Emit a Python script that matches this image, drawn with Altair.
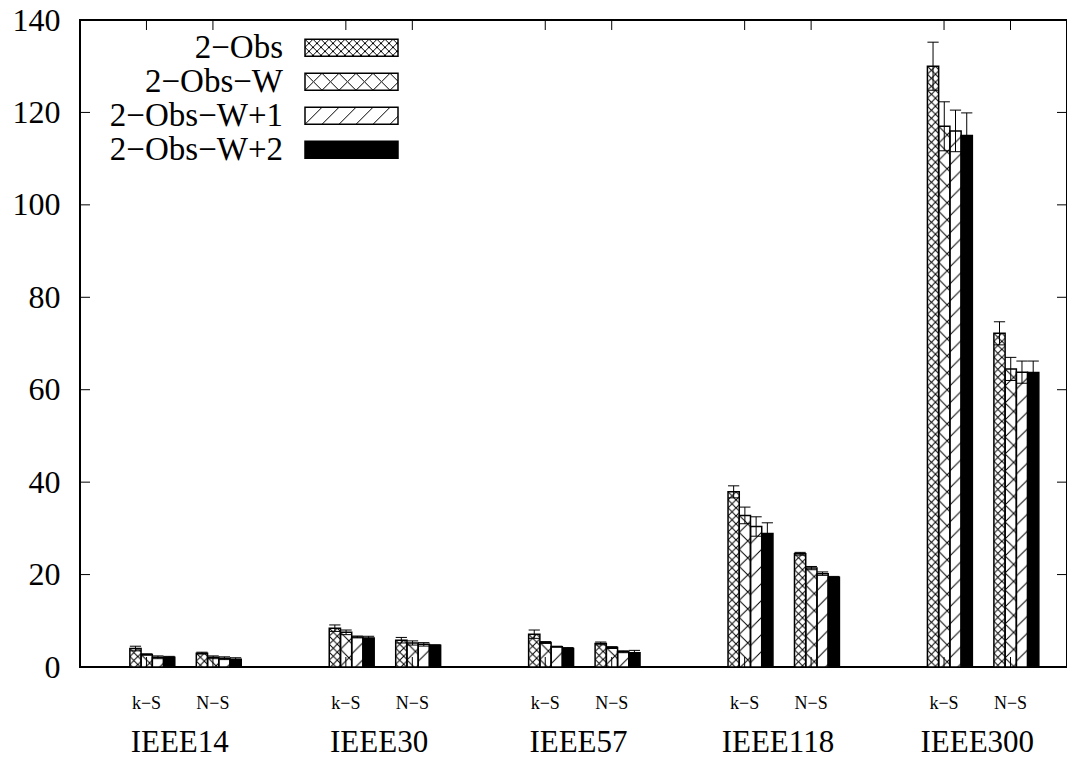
import base64
import altair as alt
import pandas as pd

# ---------------- data ----------------
GROUPS = ["IEEE14", "IEEE30", "IEEE57", "IEEE118", "IEEE300"]
SUBS = ["k−S", "N−S"]
SERIES = ["2−Obs", "2−Obs−W", "2−Obs−W+1", "2−Obs−W+2"]

# mean values: per group -> [k-S series values, N-S series values]
VAL_IEEE14 = [[4.0, 2.7, 2.1, 2.1], [3.0, 2.1, 1.9, 1.7]]
VAL_IEEE30 = [[8.4, 7.5, 6.5, 6.3], [5.8, 5.2, 4.9, 4.7]]
VAL_IEEE57 = [[7.1, 5.3, 4.4, 4.0], [5.1, 4.2, 3.3, 3.1]]
VAL_IEEE118 = [[37.9, 32.8, 30.4, 28.9], [24.5, 21.4, 20.2, 19.4]]
VAL_IEEE300 = [[130.0, 117.0, 116.0, 115.0], [72.2, 64.5, 63.8, 63.7]]

# error-bar half widths
ERR_IEEE14 = [[0.5, 0.15, 0.3, 0.2], [0.2, 0.3, 0.3, 0.3]]
ERR_IEEE30 = [[0.7, 0.5, 0.2, 0.35], [0.6, 0.45, 0.37, 0.1]]
ERR_IEEE57 = [[0.9, 0.2, 0.1, 0.2], [0.3, 0.2, 0.2, 0.5]]
ERR_IEEE118 = [[1.3, 1.8, 2.1, 2.3], [0.3, 0.35, 0.37, 0.2]]
ERR_IEEE300 = [[5.2, 5.3, 4.5, 4.9], [2.5, 2.5, 2.4, 2.5]]

VALUES = [VAL_IEEE14, VAL_IEEE30, VAL_IEEE57, VAL_IEEE118, VAL_IEEE300]
ERRORS = [ERR_IEEE14, ERR_IEEE30, ERR_IEEE57, ERR_IEEE118, ERR_IEEE300]

Y_TICKS = [0, 20, 40, 60, 80, 100, 120, 140]

# ---------------- tables ----------------
rows = []
for gi, g in enumerate(GROUPS):
    for si, s in enumerate(SUBS):
        for ki, k in enumerate(SERIES):
            rows.append(dict(group=g, sub=s, series=k, gi=gi, si=si, ki=ki,
                             value=VALUES[gi][si][ki], err=ERRORS[gi][si][ki]))
df = pd.DataFrame(rows)

SLOTS = [3 * gi + si for gi in range(len(GROUPS)) for si in range(len(SUBS))]
SLOT_LABELS = [SUBS[si] for gi in range(len(GROUPS)) for si in range(len(SUBS))]
gdf = pd.DataFrame({"g": GROUPS, "gi": list(range(len(GROUPS)))})
ytdf = pd.DataFrame({"v": Y_TICKS})
xtdf = pd.DataFrame({"s": SLOTS, "lab": SLOT_LABELS})


# ---------------- pattern fills (styles) ----------------
def svg_uri(body):
    svg = ("<svg xmlns='http://www.w3.org/2000/svg' width='100%' height='100%'>"
           + body + "</svg>")
    return "data:image/svg+xml;base64," + base64.b64encode(svg.encode()).decode()


def cross(t):
    return (f"<defs><pattern id='p' width='{t}' height='{t}' patternUnits='userSpaceOnUse'>"
            f"<path d='M0,0L{t},{t}M{t},0L0,{t}' stroke='black' stroke-width='1' fill='none'/>"
            f"</pattern></defs><rect width='100%' height='100%' fill='white'/>"
            f"<rect width='100%' height='100%' fill='url(#p)'/>")


def diag(t):
    return (f"<defs><pattern id='p' width='{t}' height='{t}' patternUnits='userSpaceOnUse'>"
            f"<path d='M0,{t}L{t},0M-2,2L2,-2M{t-2},{t+2}L{t+2},{t-2}' stroke='black' "
            f"stroke-width='1' fill='none'/></pattern></defs>"
            f"<rect width='100%' height='100%' fill='white'/>"
            f"<rect width='100%' height='100%' fill='url(#p)'/>")


pat_df = pd.DataFrame({
    "series": SERIES[:3],
    "url": [svg_uri(cross(8)), svg_uri(cross(17)), svg_uri(diag(17))],
})

FONT = "Liberation Serif"
W, H = 987, 647
xs = alt.Scale(domain=[-1, 13.85], nice=False, zero=False)
ys = alt.Scale(domain=[0, 140], nice=False, zero=True)
fill_scale = alt.Scale(domain=SERIES, range=["white", "white", "white", "black"])

y_axis = alt.Axis(values=Y_TICKS, ticks=False, domain=False, grid=False, title=None,
                  labelFontSize=32, labelPadding=20, labelFont=FONT,
                  labelColor="black", labelFlush=False, labelOverlap=False)

BW = 0.169
OFF = -0.25
base = alt.Chart(df).transform_calculate(
    x0=f"3*datum.gi + datum.si + {OFF} + {BW}*datum.ki",
    x1=f"3*datum.gi + datum.si + {OFF} + {BW}*(datum.ki + 1)",
    xc=f"3*datum.gi + datum.si + {OFF} + {BW}*(datum.ki + 0.5)",
    lo="datum.value - datum.err",
    hi="datum.value + datum.err",
    zero="0",
)

bars_fill = base.mark_bar().encode(
    x=alt.X("x0:Q", scale=xs, axis=None),
    x2="x1:Q",
    y=alt.Y("value:Q", scale=ys, axis=y_axis),
    y2="zero:Q",
    color=alt.Color("series:N", scale=fill_scale, legend=None),
)

bars_img = base.transform_filter("datum.ki < 3").transform_lookup(
    lookup="series", from_=alt.LookupData(pat_df, key="series", fields=["url"])
).mark_image(aspect=False).encode(
    x=alt.X("x0:Q", scale=xs, axis=None),
    x2="x1:Q",
    y=alt.Y("value:Q", scale=ys, axis=None),
    y2="zero:Q",
    url=alt.Url("url:N"),
)

bars_outline = base.mark_bar(fillOpacity=0, stroke="black", strokeWidth=1.5).encode(
    x=alt.X("x0:Q", scale=xs, axis=None),
    x2="x1:Q",
    y=alt.Y("value:Q", scale=ys, axis=None),
    y2="zero:Q",
)

err_v = base.mark_rule(color="black", strokeWidth=1).encode(
    x=alt.X("xc:Q", scale=xs, axis=None),
    y=alt.Y("lo:Q", scale=ys, axis=None),
    y2="hi:Q",
)
err_hi = base.mark_rule(color="black", strokeWidth=1).encode(
    x=alt.X("x0:Q", scale=xs, axis=None),
    x2="x1:Q",
    y=alt.Y("hi:Q", scale=ys, axis=None),
)
err_lo = base.mark_rule(color="black", strokeWidth=1).encode(
    x=alt.X("x0:Q", scale=xs, axis=None),
    x2="x1:Q",
    y=alt.Y("lo:Q", scale=ys, axis=None),
)

TL = 10
ytick_l = alt.Chart(ytdf).mark_rule(color="black", strokeWidth=1).encode(
    y=alt.Y("v:Q", scale=ys, axis=None), x=alt.value(0), x2=alt.value(TL))
ytick_r = alt.Chart(ytdf).mark_rule(color="black", strokeWidth=1).encode(
    y=alt.Y("v:Q", scale=ys, axis=None), x=alt.value(W - TL), x2=alt.value(W))
xtick_b = alt.Chart(xtdf).mark_rule(color="black", strokeWidth=1).encode(
    x=alt.X("s:Q", scale=xs, axis=None), y=alt.value(H - TL), y2=alt.value(H))
xtick_t = alt.Chart(xtdf).mark_rule(color="black", strokeWidth=1).encode(
    x=alt.X("s:Q", scale=xs, axis=None), y=alt.value(0), y2=alt.value(TL))

sublabels = alt.Chart(xtdf).mark_text(
    font=FONT, fontSize=18, align="center", baseline="alphabetic", color="black"
).encode(
    x=alt.X("s:Q", scale=xs, axis=None),
    y=alt.value(689),
    text="lab:N",
)

glabels = alt.Chart(gdf).transform_calculate(gx="3*datum.gi + 0.5").mark_text(
    font=FONT, fontSize=31, align="center", baseline="alphabetic", color="black"
).encode(
    x=alt.X("gx:Q", scale=xs, axis=None),
    y=alt.value(732),
    text="g:N",
)

# ---------------- legend (text left of swatch) ----------------
ldf = pd.DataFrame({"series": SERIES})
ly = alt.Y("series:N",
           scale=alt.Scale(domain=SERIES, range=[10.8, 146.8],
                           paddingInner=0.5, paddingOuter=0.25),
           axis=None)
LX0, LX1, LTX = 225, 318, 203
leg_fill = alt.Chart(ldf).mark_rect().encode(
    x=alt.value(LX0), x2=alt.value(LX1), y=ly,
    color=alt.Color("series:N", scale=fill_scale, legend=None))
leg_img = alt.Chart(ldf).transform_lookup(
    lookup="series", from_=alt.LookupData(pat_df, key="series", fields=["url"])
).transform_filter("isValid(datum.url)").mark_image(aspect=False).encode(
    x=alt.value(LX0), x2=alt.value(LX1), y=ly, url=alt.Url("url:N"))
leg_outline = alt.Chart(ldf).mark_rect(fillOpacity=0, stroke="black", strokeWidth=1.5).encode(
    x=alt.value(LX0), x2=alt.value(LX1), y=ly)
leg_text = alt.Chart(ldf).mark_text(
    font=FONT, fontSize=33, align="right", baseline="middle", color="black"
).encode(x=alt.value(LTX), y=ly, text="series:N")

chart = alt.layer(
    bars_fill, bars_img, bars_outline, err_v, err_hi, err_lo,
    ytick_l, ytick_r, xtick_b, xtick_t, sublabels, glabels,
    leg_fill, leg_img, leg_outline, leg_text,
).resolve_scale(y="independent").properties(
    width=W, height=H,
    autosize=alt.AutoSizeParams(type="none"),
    padding={"left": 72, "top": 12, "right": 0, "bottom": 92},
).configure(font=FONT).configure_view(stroke="black", strokeWidth=2)

chart.save("out.html", embed_options={"renderer": "svg", "actions": False})
